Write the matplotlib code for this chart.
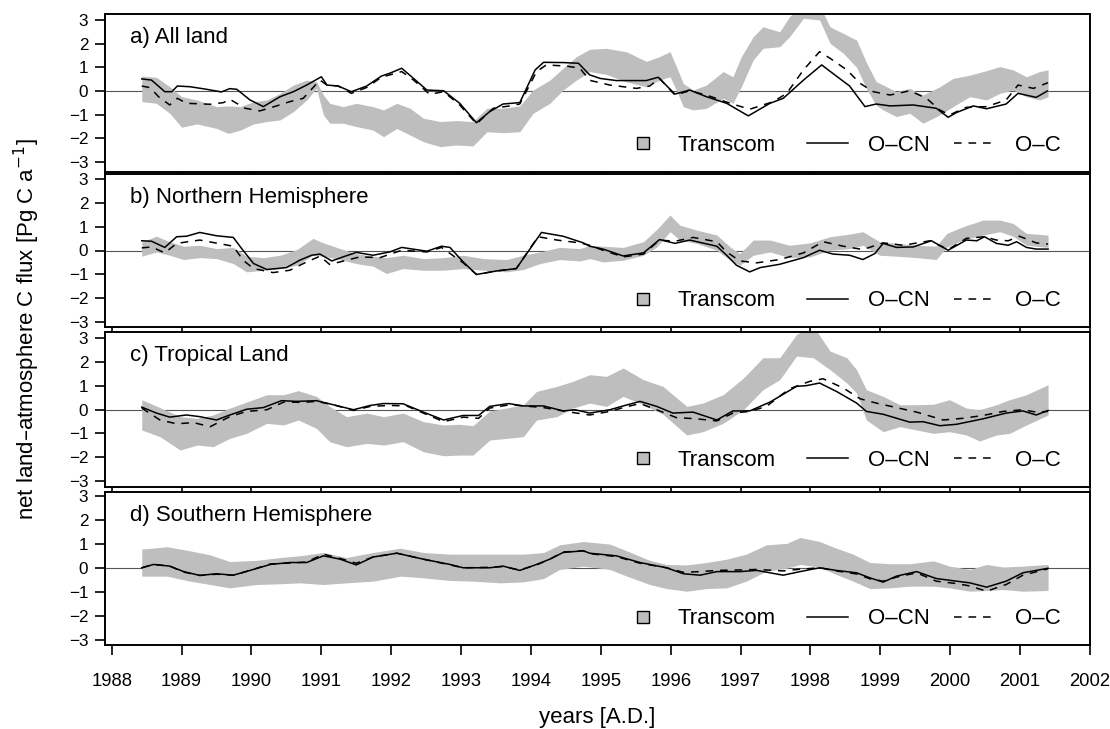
import matplotlib
matplotlib.use("Agg")
import matplotlib.pyplot as plt
from matplotlib.lines import Line2D

plt.rcParams['font.family'] = ['Liberation Sans', 'DejaVu Sans']

# ---------------- data ----------------
panel_titles = ["a) All land", "b) Northern Hemisphere", "c) Tropical Land", "d) Southern Hemisphere"]
legend_labels = ["Transcom", "O\u2013CN", "O\u2013C"]
year_ticks = list(range(1988, 2003))
flux_ticks = [-3, -2, -1, 0, 1, 2, 3]

# Panel a
band_year_a = [1988.43, 1988.64, 1988.83, 1989.00, 1989.22, 1989.50, 1989.67, 1989.84, 1990.03, 1990.22,
               1990.41, 1990.60, 1990.79, 1990.93, 1991.03, 1991.12, 1991.31, 1991.50, 1991.74, 1991.89,
               1992.08, 1992.27, 1992.46, 1992.70, 1992.93, 1993.17, 1993.37, 1993.60, 1993.84, 1994.03,
               1994.27, 1994.46, 1994.65, 1994.84, 1995.08, 1995.37, 1995.65, 1995.84, 1995.99, 1996.08,
               1996.18, 1996.32, 1996.51, 1996.75, 1996.89, 1997.01, 1997.18, 1997.32, 1997.56, 1997.70,
               1997.90, 1998.13, 1998.28, 1998.47, 1998.66, 1998.80, 1998.94, 1999.04, 1999.23, 1999.42,
               1999.61, 1999.85, 2000.04, 2000.28, 2000.52, 2000.71, 2000.90, 2001.09, 2001.28, 2001.40]
band_lo_a = [-0.45, -0.52, -0.94, -1.53, -1.39, -1.58, -1.79, -1.65, -1.39, -1.29,
             -1.22, -0.87, -0.38, 0.11, -1.01, -1.36, -1.36, -1.50, -1.65, -1.93,
             -1.58, -1.86, -2.14, -2.35, -2.28, -2.32, -1.72, -1.76, -1.72, -0.94,
             -0.52, 0.04, 0.46, 0.82, 0.70, 0.38, 0.18, 0.46, 0.60, 0.04,
             -0.66, -0.80, -0.73, -0.31, -0.52, 0.18, 1.31, 1.80, 1.87, 2.29,
             3.07, 3.00, 2.01, 1.59, 1.00, 0.10, -0.60, -0.80, -1.08, -0.94,
             -1.36, -1.01, -0.66, -0.24, -0.38, -0.10, 0.04, -0.24, -0.38, -0.24]
band_hi_a = [0.63, 0.58, 0.18, -0.24, -0.38, -0.66, -0.63, -0.66, -0.45, -0.38,
             -0.10, 0.25, 0.46, 0.39, -0.17, -0.52, -0.66, -0.52, -0.66, -0.80,
             -0.52, -0.73, -1.15, -1.29, -1.25, -1.29, -0.73, -0.73, -0.63, 0.04,
             0.46, 0.96, 1.45, 1.76, 1.80, 1.65, 1.25, 1.45, 1.66, 1.03,
             0.32, 0.04, 0.25, 0.82, 0.60, 1.45, 2.29, 2.71, 2.50, 3.14,
             3.60, 3.60, 2.71, 2.43, 2.15, 1.20, 0.40, 0.25, -0.03, 0.11,
             -0.17, 0.18, 0.53, 0.67, 0.86, 1.03, 0.89, 0.60, 0.82, 0.89]
ocn_year_a = [1988.43, 1988.57, 1988.76, 1988.86, 1988.94, 1989.12, 1989.34, 1989.57, 1989.69, 1989.79,
              1989.98, 1990.17, 1990.41, 1990.60, 1990.79, 1991.00, 1991.08, 1991.24, 1991.43, 1991.65,
              1991.86, 1991.98, 1992.15, 1992.32, 1992.51, 1992.75, 1992.98, 1993.22, 1993.41, 1993.60,
              1993.84, 1994.06, 1994.18, 1994.46, 1994.68, 1994.84, 1994.99, 1995.22, 1995.65, 1995.82,
              1996.06, 1996.27, 1996.51, 1996.80, 1997.11, 1997.42, 1997.61, 1997.90, 1998.16, 1998.37,
              1998.56, 1998.78, 1998.94, 1999.14, 1999.47, 1999.80, 1999.97, 2000.09, 2000.33, 2000.52,
              2000.80, 2000.97, 2001.23, 2001.39]
ocn_a = [0.51, 0.46, -0.03, -0.03, 0.21, 0.18, 0.08, -0.04, 0.10, 0.07,
         -0.38, -0.66, -0.24, -0.03, 0.25, 0.60, 0.25, 0.21, -0.03, 0.21,
         0.63, 0.75, 0.96, 0.53, 0.04, 0.01, -0.52, -1.34, -0.87, -0.55,
         -0.49, 0.89, 1.21, 1.20, 1.17, 0.68, 0.53, 0.44, 0.44, 0.58,
         -0.13, 0.04, -0.24, -0.52, -1.05, -0.52, -0.31, 0.46, 1.10, 0.63,
         0.21, -0.66, -0.55, -0.63, -0.59, -0.73, -1.11, -0.91, -0.63, -0.75,
         -0.55, -0.10, -0.27, 0.00]
oc_year_a = [1988.43, 1988.55, 1988.67, 1988.83, 1988.94, 1989.07, 1989.41, 1989.60, 1989.69, 1989.91,
             1990.12, 1990.36, 1990.55, 1990.74, 1990.98, 1991.08, 1991.24, 1991.43, 1991.65, 1991.86,
             1992.15, 1992.32, 1992.55, 1992.75, 1992.98, 1993.22, 1993.46, 1993.70, 1993.84, 1994.08,
             1994.22, 1994.51, 1994.70, 1994.84, 1995.13, 1995.51, 1995.70, 1995.84, 1996.06, 1996.27,
             1996.51, 1996.85, 1997.13, 1997.47, 1997.66, 1997.90, 1998.13, 1998.28, 1998.52, 1998.71,
             1998.90, 1999.14, 1999.42, 1999.66, 1999.85, 1999.99, 2000.23, 2000.52, 2000.80, 2000.97,
             2001.19, 2001.40]
oc_a = [0.21, 0.14, -0.24, -0.59, -0.31, -0.52, -0.56, -0.49, -0.35, -0.73,
        -0.84, -0.63, -0.45, -0.31, 0.46, 0.25, 0.21, -0.10, 0.15, 0.58,
        0.82, 0.46, -0.14, -0.03, -0.59, -1.39, -0.73, -0.63, -0.55, 0.82,
        1.10, 1.05, 0.96, 0.45, 0.25, 0.11, 0.21, 0.53, -0.17, 0.01,
        -0.17, -0.52, -0.77, -0.45, -0.10, 0.89, 1.66, 1.38, 0.89, 0.32,
        -0.03, -0.17, 0.01, -0.31, -0.80, -1.01, -0.69, -0.66, -0.38, 0.25,
        0.11, 0.35]

# Panel b
band_year_b = [1988.43, 1988.64, 1988.83, 1989.03, 1989.26, 1989.50, 1989.74, 1989.93, 1990.17, 1990.41,
               1990.65, 1990.88, 1991.03, 1991.27, 1991.50, 1991.74, 1991.93, 1992.17, 1992.46, 1992.75,
               1993.03, 1993.32, 1993.65, 1993.89, 1994.13, 1994.41, 1994.70, 1994.84, 1995.03, 1995.32,
               1995.61, 1995.80, 1995.99, 1996.13, 1996.37, 1996.66, 1996.85, 1996.99, 1997.18, 1997.42,
               1997.70, 1997.99, 1998.28, 1998.56, 1998.75, 1998.99, 1999.23, 1999.52, 1999.80, 1999.95,
               2000.18, 2000.47, 2000.71, 2000.90, 2001.09, 2001.40]
band_lo_b = [-0.24, -0.06, -0.20, -0.38, -0.30, -0.34, -0.55, -0.90, -0.83, -0.76,
             -0.62, -0.20, -0.24, -0.38, -0.55, -0.66, -0.97, -0.76, -0.83, -0.83,
             -0.76, -0.83, -0.90, -0.80, -0.55, -0.38, -0.44, -0.34, -0.48, -0.41,
             -0.20, 0.15, 0.79, 0.44, 0.30, 0.01, -0.41, -0.62, -0.20, -0.06,
             -0.30, -0.27, 0.01, 0.08, 0.22, -0.20, -0.24, -0.30, -0.38, 0.15,
             0.44, 0.65, 0.79, 0.60, 0.22, 0.13]
band_hi_b = [0.37, 0.60, 0.37, 0.18, 0.22, 0.08, 0.13, -0.24, -0.30, -0.20,
             0.04, 0.51, 0.32, 0.08, -0.13, -0.24, -0.30, -0.20, -0.34, -0.30,
             -0.20, -0.34, -0.38, -0.20, -0.06, 0.13, 0.08, 0.22, 0.18, 0.13,
             0.37, 0.89, 1.49, 1.07, 0.86, 0.65, 0.15, -0.13, 0.44, 0.44,
             0.22, 0.32, 0.58, 0.69, 0.79, 0.37, 0.30, 0.22, 0.18, 0.72,
             1.00, 1.28, 1.28, 1.14, 0.72, 0.65]
ocn_year_b = [1988.43, 1988.57, 1988.76, 1988.93, 1989.07, 1989.26, 1989.50, 1989.74, 1989.86, 1990.03,
              1990.22, 1990.50, 1990.69, 1990.86, 1990.98, 1991.15, 1991.31, 1991.50, 1991.74, 1991.98,
              1992.15, 1992.51, 1992.72, 1992.84, 1993.03, 1993.22, 1993.51, 1993.79, 1993.94, 1994.15,
              1994.46, 1994.75, 1994.84, 1995.03, 1995.32, 1995.61, 1995.84, 1996.06, 1996.27, 1996.66,
              1996.80, 1996.94, 1997.13, 1997.28, 1997.56, 1997.90, 1998.13, 1998.32, 1998.56, 1998.75,
              1998.92, 1999.04, 1999.23, 1999.47, 1999.73, 1999.97, 2000.23, 2000.38, 2000.49, 2000.66,
              2000.83, 2000.95, 2001.09, 2001.23, 2001.40]
ocn_b = [0.41, 0.39, 0.13, 0.58, 0.60, 0.76, 0.62, 0.55, 0.08, -0.55,
         -0.80, -0.72, -0.41, -0.20, -0.15, -0.44, -0.27, -0.08, -0.20, -0.06,
         0.13, -0.03, 0.18, 0.13, -0.48, -1.01, -0.86, -0.76, -0.13, 0.76,
         0.60, 0.32, 0.18, 0.06, -0.23, -0.10, 0.46, 0.30, 0.44, 0.18,
         -0.20, -0.62, -0.90, -0.72, -0.58, -0.30, 0.01, -0.15, -0.20, -0.38,
         -0.13, 0.30, 0.13, 0.15, 0.41, 0.01, 0.44, 0.41, 0.58, 0.30,
         0.22, 0.37, 0.13, 0.06, 0.06]
oc_year_b = [1988.43, 1988.57, 1988.76, 1988.93, 1989.26, 1989.74, 1989.88, 1990.03, 1990.31, 1990.55,
             1990.79, 1990.98, 1991.12, 1991.36, 1991.55, 1991.84, 1992.15, 1992.51, 1992.72, 1993.03,
             1993.22, 1993.51, 1993.79, 1994.10, 1994.37, 1994.70, 1994.84, 1995.03, 1995.32, 1995.61,
             1995.84, 1996.06, 1996.32, 1996.66, 1996.80, 1996.99, 1997.23, 1997.56, 1997.90, 1998.18,
             1998.47, 1998.75, 1999.04, 1999.33, 1999.71, 1999.97, 2000.23, 2000.49, 2000.66, 2000.83,
             2000.99, 2001.23, 2001.40]
oc_b = [0.11, 0.15, -0.10, 0.30, 0.44, 0.18, -0.41, -0.76, -0.93, -0.83,
        -0.48, -0.24, -0.59, -0.41, -0.27, -0.30, 0.01, -0.06, 0.13, -0.52,
        -1.01, -0.86, -0.76, 0.58, 0.44, 0.32, 0.22, 0.01, -0.27, -0.15,
        0.44, 0.39, 0.55, 0.37, -0.06, -0.44, -0.52, -0.38, -0.10, 0.37,
        0.18, 0.04, 0.32, 0.22, 0.41, 0.04, 0.51, 0.58, 0.44, 0.41,
        0.60, 0.32, 0.27]

# Panel c
band_year_c = [1988.43, 1988.69, 1988.98, 1989.22, 1989.45, 1989.69, 1989.93, 1990.22, 1990.46, 1990.67,
               1990.93, 1991.12, 1991.36, 1991.65, 1991.89, 1992.17, 1992.46, 1992.75, 1992.98, 1993.17,
               1993.41, 1993.65, 1993.89, 1994.08, 1994.37, 1994.60, 1994.84, 1995.08, 1995.32, 1995.61,
               1995.89, 1996.23, 1996.46, 1996.75, 1997.04, 1997.32, 1997.56, 1997.80, 1998.04, 1998.28,
               1998.52, 1998.66, 1998.80, 1999.04, 1999.28, 1999.52, 1999.76, 1999.99, 2000.23, 2000.42,
               2000.66, 2000.85, 2001.09, 2001.40]
band_lo_c = [-0.86, -1.14, -1.70, -1.49, -1.56, -1.21, -1.00, -0.58, -0.65, -0.44,
             -0.79, -1.35, -1.56, -1.42, -1.49, -1.35, -1.77, -1.94, -1.91, -1.91,
             -1.28, -1.21, -1.14, -0.44, -0.30, 0.06, 0.27, 0.13, 0.55, 0.20,
             -0.20, -1.07, -0.93, -0.58, -0.01, 0.83, 1.25, 2.24, 2.17, 1.67,
             1.11, 0.69, -0.44, -0.93, -0.72, -0.86, -1.00, -0.93, -1.07, -1.32,
             -1.07, -1.00, -0.65, -0.23]
band_hi_c = [0.41, 0.08, -0.30, -0.37, -0.23, 0.06, 0.31, 0.62, 0.62, 0.79,
             0.55, 0.13, -0.30, -0.15, -0.30, -0.15, -0.51, -0.65, -0.62, -0.68,
             -0.06, 0.06, 0.20, 0.76, 0.97, 1.18, 1.46, 1.39, 1.74, 1.25,
             0.97, 0.13, 0.27, 0.62, 1.32, 2.17, 2.17, 3.15, 3.50, 2.45,
             2.17, 1.67, 0.83, 0.55, 0.20, 0.20, 0.22, 0.41, 0.06, -0.01,
             0.20, 0.41, 0.62, 1.04]
ocn_year_c = [1988.43, 1988.64, 1988.83, 1989.07, 1989.26, 1989.50, 1989.69, 1989.93, 1990.17, 1990.43,
              1990.65, 1990.93, 1991.17, 1991.46, 1991.70, 1991.89, 1992.17, 1992.46, 1992.75, 1993.03,
              1993.25, 1993.41, 1993.68, 1993.89, 1994.18, 1994.46, 1994.63, 1994.84, 1995.13, 1995.32,
              1995.56, 1995.80, 1996.03, 1996.32, 1996.66, 1996.89, 1997.13, 1997.42, 1997.80, 1997.94,
              1998.13, 1998.37, 1998.66, 1998.80, 1999.04, 1999.42, 1999.61, 1999.85, 2000.09, 2000.47,
              2000.80, 2001.04, 2001.23, 2001.40]
ocn_c = [0.10, -0.15, -0.32, -0.23, -0.30, -0.44, -0.23, 0.01, 0.08, 0.37,
         0.34, 0.37, 0.20, -0.01, 0.17, 0.25, 0.24, -0.11, -0.44, -0.25,
         -0.25, 0.13, 0.25, 0.15, 0.15, -0.06, -0.01, -0.15, -0.01, 0.15,
         0.34, 0.13, -0.15, -0.11, -0.44, -0.06, -0.06, 0.31, 0.97, 1.00,
         1.11, 0.76, 0.27, -0.08, -0.20, -0.53, -0.51, -0.68, -0.62, -0.39,
         -0.15, -0.06, -0.23, -0.04]
oc_year_c = [1988.43, 1988.69, 1988.93, 1989.17, 1989.41, 1989.69, 1989.93, 1990.22, 1990.46, 1990.74,
             1990.93, 1991.17, 1991.46, 1991.70, 1991.98, 1992.22, 1992.46, 1992.75, 1993.03, 1993.25,
             1993.41, 1993.70, 1994.18, 1994.56, 1994.84, 1995.13, 1995.32, 1995.56, 1995.84, 1996.08,
             1996.37, 1996.66, 1996.89, 1997.13, 1997.37, 1997.70, 1997.99, 1998.18, 1998.47, 1998.71,
             1998.94, 1999.23, 1999.52, 1999.90, 2000.18, 2000.47, 2000.76, 2001.04, 2001.23, 2001.40]
oc_c = [0.06, -0.44, -0.60, -0.55, -0.72, -0.30, -0.08, -0.01, 0.31, 0.30,
        0.34, 0.20, -0.04, 0.13, 0.17, 0.15, -0.15, -0.51, -0.32, -0.37,
        0.06, 0.20, 0.08, -0.11, -0.23, -0.08, 0.08, 0.25, -0.06, -0.34,
        -0.39, -0.48, -0.15, -0.08, 0.13, 0.87, 1.18, 1.29, 0.90, 0.45,
        0.27, 0.08, -0.11, -0.44, -0.37, -0.25, -0.08, -0.01, -0.11, -0.08]

# Panel d
band_year_d = [1988.43, 1988.79, 1989.12, 1989.41, 1989.69, 1990.07, 1990.41, 1990.69, 1991.03, 1991.36,
               1991.74, 1992.13, 1992.46, 1992.84, 1993.17, 1993.56, 1993.89, 1994.18, 1994.41, 1994.75,
               1995.13, 1995.37, 1995.70, 1995.94, 1996.23, 1996.51, 1996.80, 1997.08, 1997.37, 1997.66,
               1997.85, 1998.13, 1998.37, 1998.61, 1998.85, 1999.14, 1999.42, 1999.76, 1999.99, 2000.28,
               2000.52, 2000.76, 2001.04, 2001.40]
band_lo_d = [-0.34, -0.34, -0.55, -0.69, -0.83, -0.69, -0.66, -0.62, -0.69, -0.62,
             -0.55, -0.34, -0.41, -0.52, -0.55, -0.62, -0.58, -0.44, -0.06, 0.08,
             -0.06, -0.34, -0.69, -0.86, -0.97, -0.86, -0.83, -0.55, -0.13, -0.01,
             0.15, 0.04, -0.27, -0.55, -0.86, -0.83, -0.76, -0.76, -0.83, -0.97,
             -0.94, -0.90, -0.97, -0.94]
band_hi_d = [0.79, 0.89, 0.72, 0.55, 0.27, 0.32, 0.44, 0.51, 0.65, 0.44,
             0.65, 0.83, 0.65, 0.58, 0.58, 0.58, 0.58, 0.65, 0.97, 1.11,
             1.00, 0.72, 0.32, 0.15, 0.13, 0.23, 0.37, 0.58, 0.97, 1.03,
             1.28, 1.11, 0.83, 0.58, 0.23, 0.18, 0.18, 0.30, 0.08, -0.06,
             0.15, 0.04, 0.08, 0.15]
line_year_d = [1988.43, 1988.60, 1988.83, 1989.03, 1989.26, 1989.50, 1989.74, 1989.98, 1990.27, 1990.55,
               1990.79, 1991.03, 1991.27, 1991.50, 1991.74, 1992.08, 1992.46, 1992.84, 1993.03, 1993.41,
               1993.60, 1993.84, 1994.08, 1994.27, 1994.46, 1994.75, 1994.84, 1995.22, 1995.56, 1995.94,
               1996.18, 1996.42, 1996.66, 1996.99, 1997.23, 1997.61, 1997.85, 1998.13, 1998.37, 1998.66,
               1998.85, 1999.04, 1999.23, 1999.52, 1999.80, 2000.09, 2000.28, 2000.52, 2000.80, 2001.04,
               2001.40]
ocn_d = [0.01, 0.15, 0.08, -0.15, -0.31, -0.24, -0.30, -0.10, 0.15, 0.23,
         0.23, 0.51, 0.37, 0.13, 0.46, 0.62, 0.37, 0.15, 0.01, 0.01,
         0.08, -0.10, 0.15, 0.37, 0.65, 0.72, 0.62, 0.51, 0.23, 0.01,
         -0.24, -0.30, -0.15, -0.15, -0.10, -0.30, -0.15, 0.01, -0.10, -0.20,
         -0.41, -0.59, -0.34, -0.15, -0.44, -0.55, -0.62, -0.80, -0.55, -0.20,
         -0.01]
oc_d = [0.01, 0.15, 0.08, -0.17, -0.31, -0.26, -0.30, -0.10, 0.17, 0.21,
        0.25, 0.58, 0.40, 0.20, 0.46, 0.62, 0.37, 0.13, 0.01, 0.03,
        0.06, -0.08, 0.13, 0.37, 0.67, 0.72, 0.60, 0.48, 0.20, 0.01,
        -0.18, -0.15, -0.10, -0.08, -0.06, -0.12, -0.05, 0.01, -0.12, -0.25,
        -0.45, -0.55, -0.38, -0.20, -0.55, -0.65, -0.75, -0.97, -0.69, -0.30,
        -0.03]

panels = [
    (band_year_a, band_lo_a, band_hi_a, ocn_year_a, ocn_a, oc_year_a, oc_a),
    (band_year_b, band_lo_b, band_hi_b, ocn_year_b, ocn_b, oc_year_b, oc_b),
    (band_year_c, band_lo_c, band_hi_c, ocn_year_c, ocn_c, oc_year_c, oc_c),
    (band_year_d, band_lo_d, band_hi_d, line_year_d, ocn_d, line_year_d, oc_d),
]

# ---------------- layout ----------------
W, H = 1110, 729
fig = plt.figure(figsize=(W / 100, H / 100), dpi=100)
fig.patch.set_facecolor('white')
left_px, right_px = 105, 1090
panel_px = [(14, 172), (174, 327), (332, 487), (492, 645)]
panel_ylims = [(-3.42, 3.25), (-3.22, 3.22), (-3.25, 3.25), (-3.22, 3.18)]

band_color = '#bebebe'
dash_style = (5.0, 4.5)
for i, (top, bot) in enumerate(panel_px):
    ax = fig.add_axes([left_px / W, 1 - bot / H, (right_px - left_px) / W, (bot - top) / H])
    by, blo, bhi, oy, ov, cy, cv = panels[i]
    ax.axhline(0, color='#555555', lw=0.8, zorder=1)
    ax.fill_between(by, blo, bhi, color=band_color, lw=0, zorder=2)
    ax.plot(oy, ov, color='black', lw=1.1, zorder=4)
    ax.plot(cy, cv, color='black', lw=1.1, dashes=dash_style, zorder=3)

    ax.set_xlim(1987.904, 2002.0)
    ax.set_ylim(*panel_ylims[i])
    ax.set_yticks(flux_ticks)
    ax.set_xticks(year_ticks)
    for sp in ax.spines.values():
        sp.set_linewidth(1.4)
    ax.tick_params(axis='y', direction='out', length=7, width=1.2, pad=5, labelsize=12.3)
    if i < 3:
        ax.tick_params(axis='x', direction='out', length=3.5, width=1.2, labelbottom=False)
    else:
        ax.tick_params(axis='x', direction='out', length=7.5, width=1.2, pad=13, labelsize=13.3)

    ax.text(0.0254, 1 - 28.7 / (bot - top), panel_titles[i], transform=ax.transAxes,
            fontsize=16, va='baseline', ha='left')

    # legend: Transcom entry and the two line entries as two groups
    band_handle = Line2D([], [], marker='s', ls='none', mfc=band_color, mec='black', ms=8, mew=1.0)
    line_handles = [
        Line2D([], [], color='black', lw=1.1),
        Line2D([], [], color='black', lw=1.1, dashes=dash_style),
    ]
    leg1 = ax.legend([band_handle], legend_labels[:1], frameon=False, fontsize=16,
                     loc='center right', bbox_to_anchor=(0.6894, 0.17), borderaxespad=0,
                     handlelength=1.0, handletextpad=1.03)
    ax.add_artist(leg1)
    ax.legend(line_handles, legend_labels[1:], ncol=2, frameon=False, fontsize=16,
              loc='center right', bbox_to_anchor=(0.979, 0.17), borderaxespad=0,
              handlelength=1.82, handletextpad=0.9, columnspacing=1.1)

fig.text(27 / W, 1 - 329 / H, 'net land\u2013atmosphere C flux [Pg C a$^{\u22121}$]',
         rotation=90, ha='center', va='center', fontsize=16)
fig.text((left_px + right_px) / 2 / W, 1 - 718 / H, 'years [A.D.]',
         ha='center', va='center', fontsize=16)

fig.savefig('out.png', dpi=100, facecolor='white')
